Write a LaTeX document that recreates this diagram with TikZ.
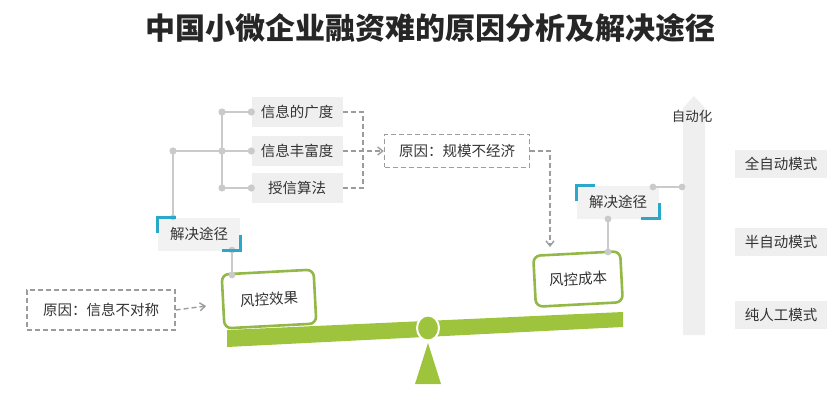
\documentclass[tikz,border=0pt]{standalone}
\usepackage{fontspec}
\setmainfont{Noto Sans CJK SC}
\usetikzlibrary{arrows.meta}

\definecolor{barGreen}{HTML}{9DC43C}
\definecolor{boxGreen}{HTML}{93B847}
\definecolor{lineGray}{HTML}{CACACA}
\definecolor{fillGray}{HTML}{EFEFEF}
\definecolor{dashGray}{HTML}{9C9C9C}
\definecolor{bracketCyan}{HTML}{2AA7C9}
\definecolor{txtGray}{HTML}{333333}

\tikzset{
  bodytext/.style={text=txtGray, font=\fontsize{14.5}{17}\selectfont},
  graybox/.style={bodytext, fill=fillGray, inner sep=0pt, minimum width=91pt, minimum height=30pt},
  modebox/.style={graybox, minimum width=92pt, minimum height=28pt},
  solbox/.style={bodytext, fill=fillGray!80, inner sep=0pt, minimum width=82pt, minimum height=33pt},
  reasonbox/.style={bodytext, draw=dashGray, dashline, fill=white, inner sep=0pt},
  riskbox/.style={bodytext, draw=boxGreen, line width=2.6pt, rounded corners=7pt, fill=white,
    inner sep=0pt, rotate=3},
  treeline/.style={draw=lineGray, line width=2pt},
  dashline/.style={draw=dashGray, line width=1.4pt, dash pattern=on 5pt off 3pt},
  tip/.style={-{Straight Barb[length=5pt,width=8pt]}},
  dot/.style={fill=lineGray}
}

\begin{document}
\begin{tikzpicture}[x=1pt,y=-1pt]
\useasboundingbox (0,0) rectangle (837,414);

% title
\node[font=\fontsize{30}{33}\selectfont\bfseries, text=black!85] (title) at (430,28)
  {中国小微企业融资难的原因分析及解决途径};

% automation axis (right)
\fill[fillGray] (683,335) -- (683,108) -- (694,96) -- (705,108) -- (705,335) -- cycle;
\node[text=txtGray, font=\fontsize{13.5}{16}\selectfont] (auto) at (692,116) {自动化};
\node[modebox] (full) at (781,164) {全自动模式};
\node[modebox] (semi) at (781,242) {半自动模式};
\node[modebox] (manual) at (781,315) {纯人工模式};

% information tree
\node[graybox] (breadth) at (297,112) {信息的广度};
\node[graybox] (richness) at (297,151) {信息丰富度};
\node[graybox] (algo) at (297,188) {授信算法};

\coordinate (root) at (173,151);
\coordinate (branch) at (222,151);
\coordinate (bTop) at (222,112);
\coordinate (bBot) at (222,188);

\node[solbox] (solL) at (199,234) {解决途径};
\node[solbox] (solR) at (618,202) {解决途径};

\draw[treeline] (root) -- (branch);
\draw[treeline] (bTop) -- (bBot);
\draw[treeline] (bTop) -- (breadth.west);
\draw[treeline] (branch) -- (richness.west);
\draw[treeline] (bBot) -- (algo.west);
\draw[treeline] (root) -- (root |- solL.north);
\foreach \p in {root,branch,bTop,bBot,breadth.west,richness.west,algo.west}
  \fill[dot] (\p) circle (3.6pt);
\fill[dot] (root |- solL.north) circle (3pt);

% reasons
\node[reasonbox, minimum width=145pt, minimum height=33pt] (scale) at (457,151) {原因：规模不经济};
\node[reasonbox, minimum width=148pt, minimum height=40pt] (asym) at (101,310) {原因：信息不对称};

\coordinate (merge) at (363,151);
\draw[dashline] (breadth.east) -| (merge);
\draw[dashline] (algo.east) -| (merge);
\draw[dashline, tip] (richness.east) -- (scale.west);

% seesaw
\fill[barGreen] (227,330) -- (623,312) -- (623,327) -- (227,347) -- cycle;
\fill[barGreen] (428,343) -- (415,384) -- (441,384) -- cycle;
\filldraw[fill=barGreen, draw=white, line width=2pt] (428,328) ellipse [x radius=11pt, y radius=12.5pt];

\node[riskbox, minimum width=92pt, minimum height=54pt] (effect) at (269,299) {风控效果};
\node[riskbox, minimum width=87pt, minimum height=51pt] (cost) at (578,279) {风控成本};

\coordinate (costTip) at (550,247);
\draw[dashline, tip] (scale.east) -| (costTip);
\coordinate (effTip) at (206,306);
\draw[dashline, tip] (asym.east) -- (effTip);

% links from the solution boxes
\coordinate (lTop) at (232,250);
\coordinate (lBot) at (232,275);
\coordinate (rTop) at (608,219);
\coordinate (rBot) at (608,252);
\coordinate (rSide) at (653,187);
\coordinate (axisPt) at (682,187);
\draw[treeline] (lTop) -- (lBot);
\draw[treeline] (rTop) -- (rBot);
\draw[treeline] (rSide) -- (axisPt);
\foreach \p in {lTop,lBot,rTop,rBot,rSide,axisPt}
  \fill[dot] (\p) circle (3.4pt);

% corner brackets
\foreach \n in {solL,solR} {
  \draw[bracketCyan, line width=3pt] ([yshift=-16pt]\n.north west) -- (\n.north west) -- ([xshift=18pt]\n.north west);
  \draw[bracketCyan, line width=3pt] ([yshift=16pt]\n.south east) -- (\n.south east) -- ([xshift=-18pt]\n.south east);
}

\end{tikzpicture}
\end{document}
